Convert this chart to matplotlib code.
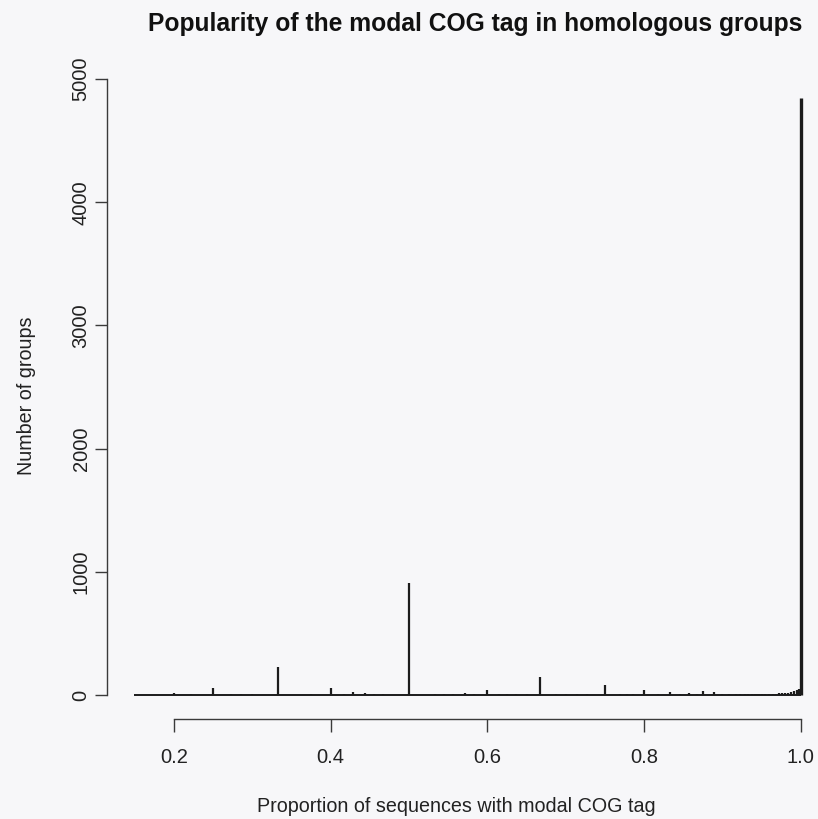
import matplotlib
matplotlib.use("Agg")
import matplotlib.pyplot as plt

# proportion of sequences carrying the modal COG tag, and how many groups hit each value
proportions = [0.200, 0.222, 0.250, 0.273, 0.286, 0.300, 0.333, 0.375, 0.400,
               0.417, 0.429, 0.444, 0.455, 0.467, 0.500, 0.533, 0.545, 0.556,
               0.571, 0.583, 0.600, 0.615, 0.625, 0.636, 0.650, 0.667, 0.688,
               0.700, 0.714, 0.727, 0.750, 0.769, 0.778, 0.786, 0.800, 0.818,
               0.833, 0.846, 0.857, 0.867, 0.875, 0.889, 0.900, 0.909, 0.917,
               0.923, 0.929, 0.933, 0.938, 0.941, 0.944, 0.947, 0.950, 0.955,
               0.960, 0.964, 0.968, 0.972, 0.976, 0.980, 0.984, 0.988, 0.992,
               0.995, 0.998, 1.000]
n_groups = [20, 5, 57, 5, 6, 8, 230, 8, 54,
            12, 27, 15, 5, 6, 910, 5, 5, 8,
            15, 6, 40, 5, 10, 5, 6, 150, 5,
            8, 12, 8, 80, 5, 8, 6, 43, 12,
            25, 6, 20, 8, 30, 22, 12, 10, 10,
            8, 8, 10, 8, 8, 10, 8, 10, 10,
            10, 12, 12, 14, 16, 18, 20, 26, 34,
            42, 50, 4850]

data_min = 0.149
x_ticks = [0.2, 0.4, 0.6, 0.8, 1.0]
y_ticks = [0, 1000, 2000, 3000, 4000, 5000]

ink = "#1c1c1c"
bg = "#f7f7f9"
plt.rcParams["font.family"] = ["Liberation Sans", "DejaVu Sans"]

W, H = 818, 819
fig = plt.figure(figsize=(W / 100, H / 100), dpi=100, facecolor=bg)

# plot region in pixels, R-style 4% padding around the data range
left, right, top, bottom = 107.3, 827.4, 73.6, 719.0
ax = fig.add_axes([left / W, 1 - bottom / H, (right - left) / W, (bottom - top) / H])
ax.set_facecolor(bg)

x_pad = 0.04 * (1.0 - data_min)
y_max = max(n_groups)
ax.set_xlim(data_min - x_pad, 1.0 + x_pad)
ax.set_ylim(-0.04 * y_max, 1.04 * y_max)

# empty bins show up as a flat line along zero
ax.plot([data_min, 1.0], [0, 0], color=ink, lw=1.4, solid_capstyle="butt")
widths = [2.4 if p == 1.0 else 1.6 for p in proportions]
ax.vlines(proportions, 0, n_groups, colors=ink, linewidths=widths)

for side in ("top", "right"):
    ax.spines[side].set_visible(False)
ax.spines["left"].set_bounds(0, 5000)
ax.spines["bottom"].set_bounds(0.2, 1.0)
for side in ("left", "bottom"):
    ax.spines[side].set_linewidth(1.0)
    ax.spines[side].set_color("#3a3a3a")

ax.set_xticks(x_ticks)
ax.set_xticklabels(["0.2", "0.4", "0.6", "0.8", "1.0"])
ax.set_yticks(y_ticks)
ax.set_yticklabels([str(v) for v in y_ticks], rotation=90, va="center")
ax.tick_params(axis="both", direction="out", length=9, width=1.0,
               color="#3a3a3a", labelsize=14.5, labelcolor="#222222")
ax.tick_params(axis="x", pad=12)
ax.tick_params(axis="y", pad=3)

fig.text(475 / W, 1 - 24 / H,
         "Popularity of the modal COG tag in homologous groups",
         ha="center", va="center", fontsize=17.7, fontweight="bold", color="#111111")
fig.text(456 / W, 1 - 806 / H, "Proportion of sequences with modal COG tag",
         ha="center", va="center", fontsize=14.2, color="#222222")
fig.text(27 / W, 1 - 396 / H, "Number of groups", rotation=90,
         ha="center", va="center", fontsize=14.2, color="#222222")

fig.savefig("out.png", dpi=100, facecolor=bg)
